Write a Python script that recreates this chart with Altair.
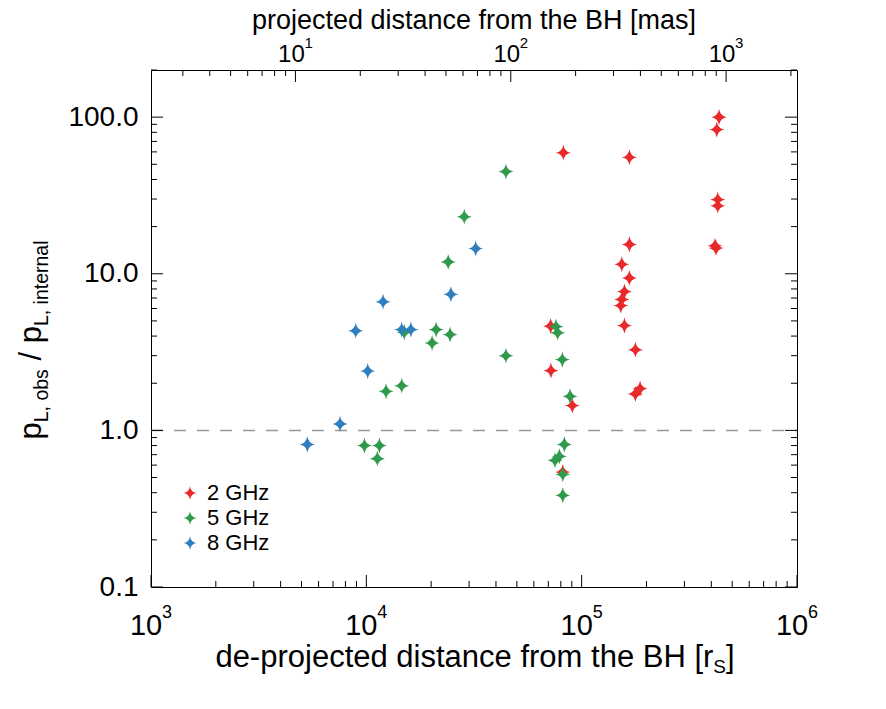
import math
import altair as alt
import pandas as pd

# ---------------------------------------------------------------------------
# Data: de-projected distance from the BH [r_S] and p_L,obs / p_L,internal
# ---------------------------------------------------------------------------
BANDS = ["2 GHz", "5 GHz", "8 GHz"]
COLORS = ["#e8282b", "#2f9a4c", "#2f7fc0"]

dist_2ghz = [82200, 166600, 434500, 424000, 428600, 428600, 166600, 416000,
             421000, 153600, 166600, 158000, 153600, 152000, 158000, 177600,
             186700, 177600, 71800, 72000, 90500, 81700]
ratio_2ghz = [59.2, 55.5, 100.0, 83.4, 29.8, 27.2, 15.4, 15.1,
              14.6, 11.5, 9.4, 7.7, 6.86, 6.28, 4.68, 3.27,
              1.85, 1.71, 4.63, 2.41, 1.44, 0.542]

dist_5ghz = [44500, 28500, 24000, 21100, 24500, 20200, 44500, 14600,
             12350, 15000, 9800, 11500, 11250, 76000, 77400, 81300,
             88300, 83100, 78800, 75200, 81700, 81700]
ratio_5ghz = [45.0, 23.1, 11.9, 4.41, 4.10, 3.61, 3.00, 1.93,
              1.78, 4.24, 0.80, 0.80, 0.66, 4.61, 4.20, 2.83,
              1.65, 0.814, 0.683, 0.644, 0.524, 0.385]

dist_8ghz = [32200, 24700, 11960, 8930, 14600, 16100, 10150, 7550, 5320]
ratio_8ghz = [14.5, 7.41, 6.63, 4.33, 4.41, 4.41, 2.39, 1.10, 0.814]

# axis ranges and labels
X_DOMAIN = [1e3, 1e6]            # r_S
Y_DOMAIN = [0.1, 200.0]
RS_PER_MAS = 468.6               # r_S per milliarcsecond (projected)
MAS_DOMAIN = [X_DOMAIN[0] / RS_PER_MAS, X_DOMAIN[1] / RS_PER_MAS]
Y_LABELS = [0.1, 1.0, 10.0, 100.0]
X_LABEL_EXP = [3, 4, 5, 6]
MAS_LABEL_EXP = [1, 2, 3]
REF_LEVEL = [1.0]

FONT = "Liberation Sans"
W, H = 646, 517

# four-pointed star symbol
STAR = ("M0,-1.07 Q0.14,-0.14 1,0 Q0.14,0.14 0,1.07 "
        "Q-0.14,0.14 -1,0 Q-0.14,-0.14 0,-1.07 Z")

# Helvetica/Arial advance widths (per em) used to lay out composed titles
ADV = {" ": .278, "a": .556, "b": .556, "c": .5, "d": .556, "e": .556,
       "f": .278, "h": .556, "i": .222, "j": .222, "l": .222, "m": .833,
       "n": .556, "o": .556, "p": .556, "r": .333, "s": .5, "t": .278,
       "-": .333, "[": .278, "]": .278, "/": .278, ",": .278, "B": .667,
       "H": .722, "L": .556, "S": .667}


def text_width(s, size):
    return sum(ADV.get(c, .556) for c in s) * size


def log_ticks(lo, hi):
    major, minor = [], []
    e = math.floor(math.log10(lo) + 1e-9)
    while 10.0 ** e <= hi * 1.0001:
        for k in range(1, 10):
            v = k * 10.0 ** e
            if lo * 0.9999 <= v <= hi * 1.0001:
                (major if k == 1 else minor).append(v)
        e += 1
    return major, minor


rows = []
for band, xs_, ys_ in zip(BANDS, [dist_2ghz, dist_5ghz, dist_8ghz],
                          [ratio_2ghz, ratio_5ghz, ratio_8ghz]):
    for d, r in zip(xs_, ys_):
        rows.append({"band": band, "dist": d, "ratio": r, "idx": len(rows)})
df = pd.DataFrame(rows)

x_scale = alt.Scale(type="log", domain=X_DOMAIN, nice=False)
y_scale = alt.Scale(type="log", domain=Y_DOMAIN, nice=False)
mas_scale = alt.Scale(type="log", domain=MAS_DOMAIN, nice=False)

Y_AXIS = alt.Axis(values=Y_LABELS, format=".1f", labelFontSize=28,
                  labelFont=FONT, labelColor="black", ticks=False,
                  domain=False, grid=False, labelPadding=13, title=None,
                  labelFlush=False)


def yenc(field):
    return alt.Y(field, type="quantitative", scale=y_scale, axis=Y_AXIS)


def xenc(field, scale=x_scale):
    return alt.X(field, type="quantitative", scale=scale, axis=None)


one = pd.DataFrame({"a": [0]})

# --- data points -----------------------------------------------------------
points = alt.Chart(df).mark_point(
    shape=STAR, filled=True, size=225, opacity=1, strokeWidth=0
).encode(
    x=xenc("dist"),
    y=yenc("ratio"),
    color=alt.Color("band:N", scale=alt.Scale(domain=BANDS, range=COLORS),
                    legend=alt.Legend(title=None, orient="none", legendX=28,
                                      legendY=412, labelFontSize=22,
                                      labelFont=FONT, labelColor="black",
                                      symbolType=STAR, symbolSize=160,
                                      symbolStrokeWidth=0, rowPadding=3,
                                      labelOffset=6, padding=0)),
    order=alt.Order("idx:Q"),
)

# --- reference level --------------------------------------------------------
ref = alt.Chart(pd.DataFrame({"v": REF_LEVEL})).mark_rule(
    color="#999999", strokeWidth=1.5, strokeDash=[12, 11]
).encode(y=yenc("v"), x=alt.value(0), x2=alt.value(W))

# --- inward ticks -------------------------------------------------------------
MAJ, MIN = 12, 6
y_major, y_minor = log_ticks(*Y_DOMAIN)
x_major, x_minor = log_ticks(*X_DOMAIN)
m_major, m_minor = log_ticks(*MAS_DOMAIN)


def y_ticks(vals, x0, x1):
    return alt.Chart(pd.DataFrame({"v": vals})).mark_rule(
        color="black", strokeWidth=1
    ).encode(y=yenc("v"), x=alt.value(x0), x2=alt.value(x1))


def x_ticks(vals, y0, y1, scale=x_scale):
    return alt.Chart(pd.DataFrame({"v": vals})).mark_rule(
        color="black", strokeWidth=1
    ).encode(x=xenc("v", scale), y=alt.value(y0), y2=alt.value(y1))


tick_layers = [
    y_ticks(y_major, 0, MAJ), y_ticks(y_minor, 0, MIN),
    y_ticks(y_major, W - MAJ, W), y_ticks(y_minor, W - MIN, W),
    x_ticks(x_major, H - MAJ, H), x_ticks(x_minor, H - MIN, H),
]

# --- bottom tick labels: 10^n -----------------------------------------------
xlab = pd.DataFrame({"v": [10.0 ** e for e in X_LABEL_EXP],
                     "e": [str(e) for e in X_LABEL_EXP]})
x_base = alt.Chart(xlab).mark_text(
    font=FONT, fontSize=29, align="center", baseline="alphabetic", dx=-5,
    color="black"
).encode(x=xenc("v"), y=alt.value(H + 48), text=alt.value("10"))
x_exp = alt.Chart(xlab).mark_text(
    font=FONT, fontSize=18, align="left", baseline="alphabetic", dx=11,
    color="black"
).encode(x=xenc("v"), y=alt.value(H + 31), text="e:N")

# --- bottom title with subscript --------------------------------------------
BT_MAIN, BT_SUB, BT_END = "de-projected distance from the BH [r", "S", "]"
BT_FS, BT_SFS = 31, 19
bt_total = (text_width(BT_MAIN, BT_FS) + text_width(BT_SUB, BT_SFS)
            + text_width(BT_END, BT_FS))
bt_x0 = W / 2 - bt_total / 2 + 1
bt_y = H + 80


def label(text, x, y, size, angle=0):
    kw = dict(font=FONT, fontSize=size, align="left", baseline="alphabetic",
              color="black")
    if angle:
        kw["angle"] = angle
    return alt.Chart(one).mark_text(**kw).encode(
        x=alt.value(x), y=alt.value(y), text=alt.value(text))


bx1 = bt_x0 + text_width(BT_MAIN, BT_FS)
bx2 = bx1 + text_width(BT_SUB, BT_SFS)
bottom_title = [
    label(BT_MAIN, bt_x0, bt_y, BT_FS),
    label(BT_SUB, bx1, bt_y + 6, BT_SFS),
    label(BT_END, bx2, bt_y, BT_FS),
]

# --- left title: p_L,obs / p_L,internal (rotated) -----------------------------
YT_FS, YT_SFS = 31, 19.5
GAP = text_width(" ", YT_FS)
# (text, size, subscript, extra space before)
pieces = [("p", YT_FS, False, 0), ("L, obs", YT_SFS, True, 0),
          ("/", YT_FS, False, GAP), ("p", YT_FS, False, GAP),
          ("L, internal", YT_SFS, True, 0)]
yt_total = sum(text_width(t, s) + g for t, s, _, g in pieces)
yt_start = (340 - 70) + yt_total / 2
base_x, sub_x = 41 - 151, 48 - 151
left_title = []
pos = yt_start
for t, s, sub, g in pieces:
    pos -= g
    left_title.append(label(t, sub_x if sub else base_x, pos, s, angle=270))
    pos -= text_width(t, s)

main = alt.layer(ref, *tick_layers, points, x_base, x_exp,
                 *bottom_title, *left_title)

# --- top axis: projected distance in mas --------------------------------------
mlab = pd.DataFrame({"v": [10.0 ** e for e in MAS_LABEL_EXP],
                     "e": [str(e) for e in MAS_LABEL_EXP]})
m_base = alt.Chart(mlab).mark_text(
    font=FONT, fontSize=24, align="center", baseline="alphabetic", dx=-4,
    color="black"
).encode(x=xenc("v", mas_scale), y=alt.value(-8), text=alt.value("10"))
m_exp = alt.Chart(mlab).mark_text(
    font=FONT, fontSize=15, align="left", baseline="alphabetic", dx=9,
    color="black"
).encode(x=xenc("v", mas_scale), y=alt.value(-22), text="e:N")
top_title = alt.Chart(one).mark_text(
    font=FONT, fontSize=27, align="center", baseline="alphabetic",
    color="black"
).encode(x=alt.value(W / 2), y=alt.value(-41),
         text=alt.value("projected distance from the BH [mas]"))

top = alt.layer(
    x_ticks(m_major, 0, MAJ, mas_scale), x_ticks(m_minor, 0, MIN, mas_scale),
    m_base, m_exp, top_title,
)

chart = alt.layer(main, top).resolve_scale(x="independent").properties(
    width=W, height=H,
    autosize=alt.AutoSizeParams(type="none"),
    padding={"left": 151, "top": 70, "right": 89, "bottom": 122},
    background="white",
).configure_view(stroke="black", strokeWidth=1)

chart.save("out.html", embed_options={"renderer": "svg", "actions": False})
